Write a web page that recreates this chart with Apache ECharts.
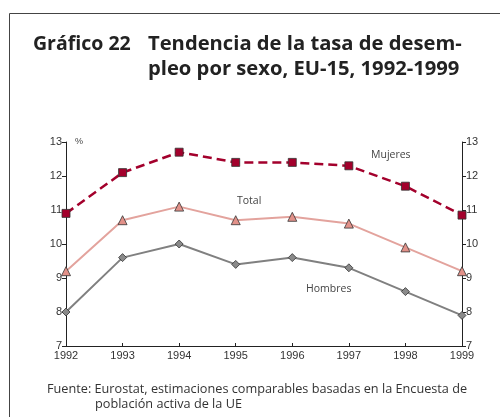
<!DOCTYPE html>
<html><head><meta charset="utf-8">
<script src="https://cdn.jsdelivr.net/npm/echarts@6/dist/echarts.min.js"></script>
<style>html,body{margin:0;padding:0;background:#fff}#c{width:500px;height:417px}</style>
</head><body><div id="c"></div>
<script>
const years = ['1992','1993','1994','1995','1996','1997','1998','1999'];
const mujeres = [10.9, 12.1, 12.7, 12.4, 12.4, 12.3, 11.7, 10.85];
const total   = [9.2, 10.7, 11.1, 10.7, 10.8, 10.6, 9.9, 9.2];
const hombres = [8.0, 9.6, 10.0, 9.4, 9.6, 9.3, 8.6, 7.9];
const yTicks = [7, 8, 9, 10, 11, 12, 13];

const axisFont = "'Liberation Sans Narrow','Liberation Sans',Arial,sans-serif";
const textFont = "'Open Sans','Liberation Sans',Arial,sans-serif";
const chart = echarts.init(document.getElementById('c'), null, {renderer:'canvas'});
const yAxisCommon = {
  type:'value', min: yTicks[0], max: yTicks[yTicks.length-1], interval:1,
  axisLine:{show:true, lineStyle:{color:'#222', width:1}},
  axisTick:{show:true, length:4, lineStyle:{color:'#222'}},
  splitLine:{show:false},
  axisLabel:{color:'#333', fontSize:11, fontFamily:axisFont, margin:4}
};
chart.setOption({
  animation:false,
  title:[
    {text:'Gráfico 22', left:33, top:32, padding:0, textStyle:{fontSize:19.5, fontWeight:'bold', color:'#222', lineHeight:25, fontFamily:textFont}},
    {text:'Tendencia de la tasa de desem-\npleo por sexo, EU-15, 1992-1999', left:148, top:32, padding:0,
     textStyle:{fontSize:20.2, fontWeight:'bold', color:'#222', lineHeight:25, fontFamily:textFont}},
    {text:'Fuente: Eurostat, estimaciones comparables basadas en la Encuesta de', left:47, top:383, padding:0,
     textStyle:{fontSize:12.7, fontWeight:'normal', color:'#333', fontFamily:textFont}},
    {text:'población activa de la UE', left:95, top:398, padding:0,
     textStyle:{fontSize:12.7, fontWeight:'normal', color:'#333', fontFamily:textFont}}
  ],
  grid:{left:66, right:38, top:142, bottom:71, containLabel:false},
  xAxis:{type:'category', data:years, boundaryGap:false,
    axisLine:{lineStyle:{color:'#222'}},
    axisTick:{show:true, inside:true, length:3, lineStyle:{color:'#222'}},
    axisLabel:{color:'#333', fontSize:11, fontFamily:axisFont, margin:4}
  },
  yAxis:[
    Object.assign({position:'left'}, yAxisCommon),
    Object.assign({position:'right'}, yAxisCommon)
  ],
  graphic:[
    {type:'line', shape:{x1:9.5,y1:13.5,x2:500,y2:13.5}, style:{stroke:'#444', lineWidth:1}},
    {type:'line', shape:{x1:9.5,y1:13.5,x2:9.5,y2:417}, style:{stroke:'#444', lineWidth:1}},
    {type:'text', left:75, top:137, style:{text:'%', fill:'#444', font:"9px "+axisFont}},
    {type:'text', left:371, top:150, style:{text:'Mujeres', fill:'#444', font:"10.5px "+textFont}},
    {type:'text', left:237, top:196, style:{text:'Total', fill:'#444', font:"10.5px "+textFont}},
    {type:'text', left:306, top:284, style:{text:'Hombres', fill:'#444', font:"10.5px "+textFont}}
  ],
  series:[
    {name:'Hombres', type:'line', data:hombres, symbol:'diamond', symbolSize:8,
     lineStyle:{color:'#808080', width:2}, itemStyle:{color:'#8a8a8a', borderColor:'#333', borderWidth:0.8}, z:2},
    {name:'Total', type:'line', data:total, symbol:'triangle', symbolSize:9,
     lineStyle:{color:'#e3a39d', width:2}, itemStyle:{color:'#e29189', borderColor:'#333', borderWidth:0.8}, z:3},
    {name:'Mujeres', type:'line', data:mujeres, symbol:'rect', symbolSize:8,
     lineStyle:{color:'#a3002c', width:2.5, type:[9,5]}, itemStyle:{color:'#a3002c', borderColor:'#333', borderWidth:0.8}, z:4}
  ]
});
</script></body></html>
